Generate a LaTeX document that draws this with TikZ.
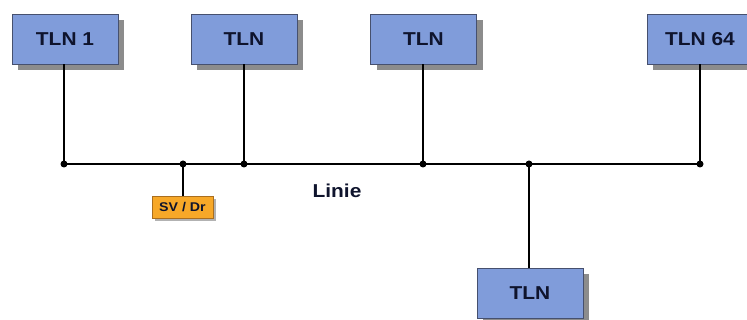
\documentclass[tikz,border=0pt]{standalone}
\usepackage{fontspec}
\setmainfont[FakeStretch=1.12]{Liberation Sans}
\usetikzlibrary{shadows}
\definecolor{boxblue}{RGB}{128,156,218}
\definecolor{boxedge}{RGB}{70,80,110}
\definecolor{txt}{RGB}{15,20,45}
\definecolor{orng}{RGB}{247,168,40}
\definecolor{orngedge}{RGB}{170,110,30}
\tikzset{
  tln/.style={rectangle, draw=boxedge, line width=0.5pt, fill=boxblue,
    minimum width=79.5pt, minimum height=37.5pt, inner sep=0pt,
    font=\fontsize{14}{16}\selectfont\bfseries, text=txt,
    drop shadow={shadow xshift=4.5pt, shadow yshift=-4.5pt, fill=black!45, opacity=1}},
  svbox/.style={rectangle, draw=orngedge, line width=0.5pt, fill=orng,
    minimum width=45.75pt, minimum height=16.5pt, inner sep=0pt,
    font=\fontsize{9.5}{11}\selectfont\bfseries, text=txt,
    drop shadow={shadow xshift=2.5pt, shadow yshift=-2.5pt, fill=black!30, opacity=1}},
  wire/.style={draw=black, line width=1.2pt},
  dot/.style={circle, fill=black, inner sep=0pt, minimum size=5.25pt}
}
\begin{document}
\begin{tikzpicture}[x=0.75pt, y=-0.75pt]
\clip (0,0) rectangle (747,320);
\fill[white] (0,0) rectangle (747,320);
% bus junctions
\coordinate (d1) at (64,164);
\coordinate (d2) at (183,164);
\coordinate (d3) at (244,164);
\coordinate (d4) at (423,164);
\coordinate (d5) at (529,164);
\coordinate (d6) at (700,164);
% nodes
\node[tln] (t1) at (65,39) {TLN 1};
\node[tln] (t2) at (244,39) {TLN};
\node[tln] (t3) at (423.5,39) {TLN};
\node[tln] (t64) at (700,39) {TLN 64};
\node[tln] (t5) at (530,293) {TLN};
\node[svbox] (sv) at (182.5,207) {SV / Dr};
\node[font=\fontsize{14}{16}\selectfont\bfseries, text=txt] (lin) at (337,191) {Linie};
% wires
\draw[wire] (d1) -- (d6);
\draw[wire] (t1.south -| d1) -- (d1);
\draw[wire] (t2.south -| d3) -- (d3);
\draw[wire] (t3.south -| d4) -- (d4);
\draw[wire] (t64.south -| d6) -- (d6);
\draw[wire] (d5) -- (t5.north -| d5);
\draw[wire] (d2) -- (sv.north -| d2);
% dots
\foreach \d in {d1,d2,d3,d4,d5,d6} \node[dot] at (\d) {};
\end{tikzpicture}
\end{document}
